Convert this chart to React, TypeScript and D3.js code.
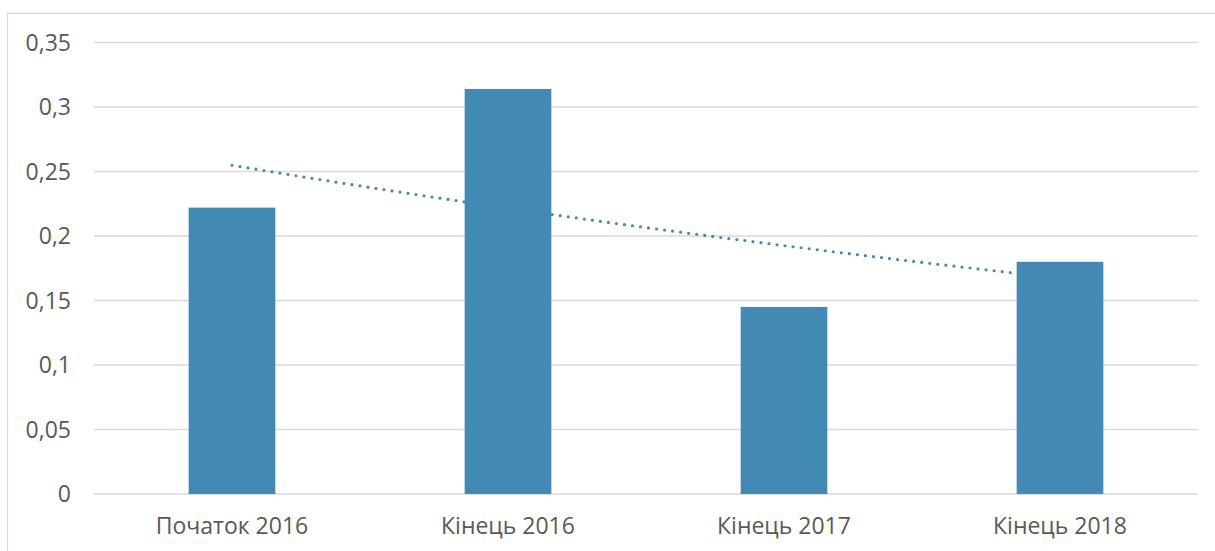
import React from "react";
import * as d3 from "d3";

// chart data
const categories = ["Початок 2016", "Кінець 2016", "Кінець 2017", "Кінець 2018"];
const values = [0.222, 0.314, 0.145, 0.18];
const yTicks = [0, 0.05, 0.1, 0.15, 0.2, 0.25, 0.3, 0.35];

const W = 1215;
const H = 551;
const margin = { top: 42.5, right: 17, bottom: 57, left: 94 };
const font = "'Open Sans', 'DejaVu Sans', sans-serif";
const barColor = "#428ab4";
const gridColor = "#d9d9d9";
const textColor = "#595959";

// exponential trendline fit (least squares on ln y), like Excel
function expTrend(ys: number[]) {
  const xs = ys.map((_, i) => i + 1);
  const ly = ys.map((v) => Math.log(v));
  const mx = d3.mean(xs)!;
  const my = d3.mean(ly)!;
  const b =
    d3.sum(xs, (x, i) => (x - mx) * (ly[i] - my)) /
    d3.sum(xs, (x) => (x - mx) * (x - mx));
  const a = my - b * mx;
  return (x: number) => Math.exp(a + b * x);
}

const App = () => {
  const x = d3
    .scaleBand<string>()
    .domain(categories)
    .range([margin.left, W - margin.right])
    .padding(0);

  const y = d3
    .scaleLinear()
    .domain([0, 0.35])
    .range([H - margin.bottom, margin.top]);

  const barW = x.bandwidth() * 0.314;
  const center = (i: number) => x(categories[i])! + x.bandwidth() / 2;

  const trend = expTrend(values);
  const steps = d3.range(0, 61).map((k) => 1 + (k / 60) * (values.length - 1));
  const trendPath = d3
    .line<number>()
    .x((t) => center(0) + (t - 1) * x.step())
    .y((t) => y(trend(t)))(steps);

  const fmt = (v: number) => String(+v.toFixed(2)).replace(".", ",");

  return (
    <svg
      width={W}
      height={H}
      style={{ position: "absolute", left: 0, top: 0, background: "#fff" }}
    >
      <rect x={7.5} y={13.5} width={W} height={H} fill="#fff" stroke={gridColor} strokeWidth={1.3} />

      {/* gridlines */}
      {yTicks.map((t) => (
        <line
          key={t}
          x1={margin.left}
          x2={W - margin.right}
          y1={y(t)}
          y2={y(t)}
          stroke={gridColor}
          strokeWidth={1.3}
        />
      ))}

      {/* y labels */}
      {yTicks.map((t) => (
        <text
          key={"l" + t}
          x={71}
          y={y(t)}
          dy="0.35em"
          textAnchor="end"
          fontFamily={font}
          fontSize={23}
          fill={textColor}
        >
          {fmt(t)}
        </text>
      ))}

      {/* trendline */}
      <path
        d={trendPath || ""}
        fill="none"
        stroke={barColor}
        strokeWidth={3.2}
        strokeLinecap="round"
        strokeDasharray="0 8.1"
      />

      {/* bars */}
      {values.map((v, i) => (
        <rect
          key={categories[i]}
          x={center(i) - barW / 2}
          y={y(v)}
          width={barW}
          height={y(0) - y(v)}
          fill={barColor}
        />
      ))}

      {/* x labels */}
      {categories.map((c, i) => (
        <text
          key={c}
          x={center(i)}
          y={526}
          dy="0.35em"
          textAnchor="middle"
          fontFamily={font}
          fontSize={23}
          fill={textColor}
        >
          {c}
        </text>
      ))}
    </svg>
  );
};

export default App;
